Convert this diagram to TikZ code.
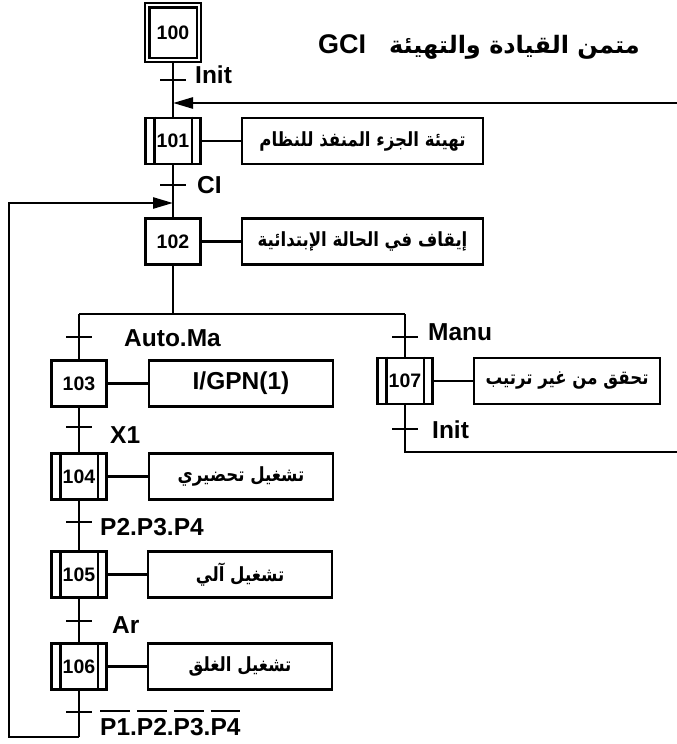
\documentclass[tikz,border=0pt]{standalone}
\usepackage{fontspec}
\setmainfont{Liberation Sans}
\newfontfamily\arabicfont[Script=Arabic]{DejaVu Sans}
\newfontfamily\arabicnarrow[Script=Arabic,FakeStretch=0.85]{DejaVu Sans}
\TeXXeTstate=1
\usetikzlibrary{arrows.meta}
\newcommand\nbar[1]{\leavevmode\setbox0\hbox{#1}\rlap{\raisebox{\dimexpr\ht0+6pt\relax}{\rule{\wd0}{2pt}}}\box0}
\newcommand\ar[1]{{\arabicnarrow\bfseries\beginR #1\endR}}
\begin{document}
\begin{tikzpicture}[x=1pt,y=-1pt,
  ln/.style={line width=2.6pt},
  stepbox/.style={draw,line width=2.6pt,minimum width=55pt,minimum height=46pt,inner sep=0pt,font=\bfseries\fontsize{19.5}{22}\selectfont},
  actbox/.style={draw,line width=2.6pt,minimum height=46pt,inner sep=0pt,font=\fontsize{19.5}{22}\selectfont},
  trans/.style={fill=black,minimum width=26pt,minimum height=2.4pt,inner sep=0pt},
  lbl/.style={anchor=base west,inner sep=0pt,font=\bfseries\fontsize{24.5}{26}\selectfont},
  arr/.style={ln,-{Triangle[length=20pt,width=11pt]}}
]
\useasboundingbox (0,0) rectangle (677,744);
% steps
\node[stepbox,minimum width=56pt,minimum height=59pt] (s100) at (173,32.5) {100};
\draw[ln] ([shift={(5.5pt,-5.5pt)}]s100.north west) rectangle ([shift={(-5.5pt,5.5pt)}]s100.south east);
\node[stepbox] (s101) at (173,141) {101};
\node[stepbox] (s102) at (173,241.5) {102};
\node[stepbox] (s103) at (79,383.5) {103};
\node[stepbox] (s104) at (79,476.5) {104};
\node[stepbox] (s105) at (79,574.5) {105};
\node[stepbox] (s106) at (79,666.5) {106};
\node[stepbox] (s107) at (405,381) {107};
\foreach \s in {s101,s104,s105,s106,s107}{
  \draw[ln] ([xshift=10pt]\s.north west) -- ([xshift=10pt]\s.south west);
  \draw[ln] ([xshift=-10pt]\s.north east) -- ([xshift=-10pt]\s.south east);
}
% actions
\node[actbox,minimum width=241pt] (a101) at (362.5,141) {\ar{تهيئة الجزء المنفذ للنظام}};
\node[actbox,minimum width=241pt] (a102) at (362.5,241.5) {\ar{إيقاف في الحالة الإبتدائية}};
\node[actbox,minimum width=184pt,font=\bfseries\fontsize{24.5}{26}\selectfont] (a103) at (241,383.5) {I/GPN(1)};
\node[actbox,minimum width=184pt] (a104) at (241,476.5) {\ar{تشغيل تحضيري}};
\node[actbox,minimum width=184pt] (a105) at (240,574.5) {\ar{تشغيل آلي}};
\node[actbox,minimum width=184pt] (a106) at (240,666.5) {\ar{تشغيل الغلق}};
\node[actbox,minimum width=186pt] (a107) at (567,381) {\ar{تحقق من غير ترتيب}};
\foreach \s/\a in {s101/a101,s102/a102,s103/a103,s104/a104,s105/a105,s106/a106,s107/a107}
  \draw[ln] (\s) -- (\a);
% coordinates
\coordinate (inR) at (677,103);
\coordinate (j1) at (173,103);
\coordinate (j2) at (173,203);
\coordinate (d) at (173,314);
\coordinate (dl) at (79,314);
\coordinate (dr) at (405,314);
\coordinate (e1) at (405,452);
\coordinate (e2) at (677,452);
\coordinate (b1) at (79,737);
\coordinate (b2) at (9,737);
\coordinate (b3) at (9,203);
% transitions
\node[trans] (t1) at (173,80) {};
\node[trans] (t2) at (173,185) {};
\node[trans] (t3) at (79,337) {};
\node[trans] (t4) at (79,427) {};
\node[trans] (t5) at (79,522) {};
\node[trans] (t6) at (79,621) {};
\node[trans] (t7) at (79,712) {};
\node[trans] (t8) at (405,337) {};
\node[trans] (t9) at (405,429) {};
% links
\draw[ln] (s100.south) -- (s101.north);
\draw[arr] (inR) -- (j1);
\draw[ln] (s101.south) -- (s102.north);
\draw[arr] (b1) -- (b2) -- (b3) -- (j2);
\draw[ln] (s102.south) -- (d);
\draw[ln] (dl) -- (dr);
\draw[ln] (dl) -- (s103.north);
\draw[ln] (s103.south) -- (s104.north);
\draw[ln] (s104.south) -- (s105.north);
\draw[ln] (s105.south) -- (s106.north);
\draw[ln] (s106.south) -- (b1);
\draw[ln] (dr) -- (s107.north);
\draw[ln] (s107.south) -- (e1) -- (e2);
% labels
\node[lbl] (l1) at (195,83) {Init};
\node[lbl] (l2) at (197,193) {CI};
\node[lbl] (l3) at (124,346) {Auto.Ma};
\node[lbl] (l4) at (110,443) {X1};
\node[lbl] (l5) at (100,535) {P2.P3.P4};
\node[lbl] (l6) at (112,633) {Ar};
\node[lbl] (l7) at (100,735) {\nbar{P1}.\nbar{P2}.\nbar{P3}.\nbar{P4}};
\node[lbl] (l8) at (428,340) {Manu};
\node[lbl] (l9) at (432,438) {Init};
% title
\node[lbl,font=\bfseries\fontsize{27}{30}\selectfont] (gci) at (318,53) {GCI};
\node[lbl,anchor=base east] (title) at (640,53) {{\arabicfont\bfseries\fontsize{24}{28}\selectfont\beginR متمن القيادة والتهيئة\endR}};
\end{tikzpicture}
\end{document}
